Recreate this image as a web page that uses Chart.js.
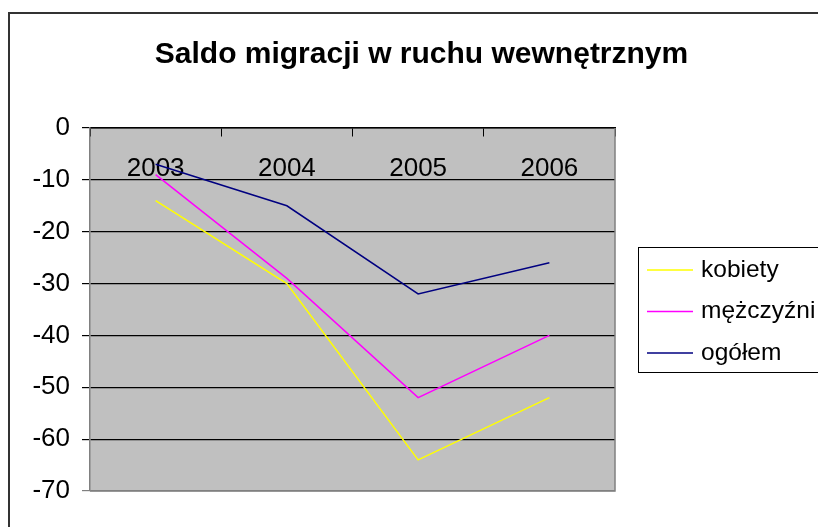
<!DOCTYPE html>
<html>
<head>
<meta charset="utf-8">
<script src="https://cdn.jsdelivr.net/npm/chart.js@4.4.0/dist/chart.umd.min.js"></script>
<style>
  html, body { margin: 0; padding: 0; background: #fff; }
  #wrap { width: 818px; height: 527px; }
</style>
</head>
<body>
<div id="wrap"><canvas id="chart" width="818" height="527"></canvas></div>
<script>
// ----------------------------
// Data
// ----------------------------
const years = ['2003', '2004', '2005', '2006'];
const kobiety = [-14, -30, -64, -52];
const mezczyzni = [-9, -29, -52, -40];
const ogolem = [-7, -15, -32, -26];
const seriesNames = ['kobiety', 'mężczyźni', 'ogółem'];
const yTicks = [0, -10, -20, -30, -40, -50, -60, -70];

const FONT = 'Liberation Sans, Arial, sans-serif';
const COLORS = ['#ffff00', '#ff00ff', '#000080'];

// plot background, borders, outer frame and the boxed legend
const excelLook = {
  id: 'excelLook',
  beforeDraw(chart) {
    const { ctx, chartArea: a } = chart;
    ctx.save();
    ctx.fillStyle = '#fff';
    ctx.fillRect(0, 0, chart.width, chart.height);
    ctx.fillStyle = '#c0c0c0';
    ctx.fillRect(a.left, a.top, a.right - a.left, a.bottom - a.top);
    ctx.restore();
  },
  afterDraw(chart) {
    const { ctx, chartArea: a } = chart;
    ctx.save();
    // plot right / bottom border
    ctx.strokeStyle = '#808080';
    ctx.lineWidth = 1.5;
    ctx.beginPath();
    ctx.moveTo(a.right, a.top);
    ctx.lineTo(a.right, a.bottom);
    ctx.lineTo(a.left, a.bottom);
    ctx.stroke();

    // outer frame (top + left edges visible)
    ctx.strokeStyle = '#333';
    ctx.lineWidth = 2;
    ctx.beginPath();
    ctx.moveTo(9, chart.height);
    ctx.lineTo(9, 13);
    ctx.lineTo(chart.width, 13);
    ctx.stroke();

    // legend
    ctx.strokeStyle = '#000';
    ctx.lineWidth = 1;
    ctx.strokeRect(638.5, 247.5, 200, 125);
    ctx.font = '24.5px ' + FONT;
    ctx.textBaseline = 'middle';
    ctx.textAlign = 'left';
    chart.data.datasets.forEach((ds, i) => {
      const y = 270 + i * 41.5;
      ctx.strokeStyle = ds.borderColor;
      ctx.lineWidth = 1.5;
      ctx.beginPath();
      ctx.moveTo(647, y);
      ctx.lineTo(693, y);
      ctx.stroke();
      ctx.fillStyle = '#000';
      ctx.fillText(ds.label, 701, y);
    });
    ctx.restore();
  }
};

const makeSet = (label, data, color) => ({
  label,
  data,
  borderColor: color,
  backgroundColor: color,
  borderWidth: 1.5,
  pointRadius: 0,
  tension: 0,
  fill: false
});

new Chart(document.getElementById('chart'), {
  type: 'line',
  data: {
    labels: years,
    datasets: [
      makeSet(seriesNames[0], kobiety, COLORS[0]),
      makeSet(seriesNames[1], mezczyzni, COLORS[1]),
      makeSet(seriesNames[2], ogolem, COLORS[2])
    ]
  },
  options: {
    responsive: false,
    animation: false,
    devicePixelRatio: 1,
    layout: { padding: { left: 25, right: 0, top: 0, bottom: 36 } },
    plugins: {
      legend: { display: false },
      tooltip: { enabled: false },
      title: {
        display: true,
        text: 'Saldo migracji w ruchu wewnętrznym',
        color: '#000',
        font: { family: FONT, size: 30, weight: 'bold', lineHeight: 1.2 },
        padding: { top: 37, bottom: 55 }
      }
    },
    scales: {
      x: {
        type: 'category',
        position: { y: 0 },
        offset: true,
        grid: {
          offset: true,
          drawOnChartArea: false,
          drawTicks: true,
          tickLength: 8,
          color: '#000'
        },
        border: { color: '#000', width: 1.5 },
        ticks: {
          color: '#000',
          font: { family: FONT, size: 26 },
          padding: 17,
          maxRotation: 0,
          autoSkip: false
        }
      },
      y: {
        type: 'linear',
        position: 'left',
        min: -70,
        max: 0,
        afterFit(scale) { scale.width = 65; },
        afterBuildTicks(scale) { scale.ticks = yTicks.map(v => ({ value: v })); },
        grid: {
          color: (c) => (c.tick && c.tick.value === -70 ? '#808080' : '#000'),
          lineWidth: 1.2,
          tickLength: 8
        },
        border: { color: '#808080', width: 1.5 },
        ticks: {
          color: '#000',
          font: { family: FONT, size: 26 },
          padding: 12
        }
      },
      // empty right-hand strip that holds the legend
      yRight: {
        type: 'linear',
        position: 'right',
        display: true,
        afterFit(scale) { scale.width = 203; },
        grid: { display: false, drawTicks: false },
        border: { display: false },
        ticks: { display: false }
      }
    }
  },
  plugins: [excelLook]
});
</script>
</body>
</html>
